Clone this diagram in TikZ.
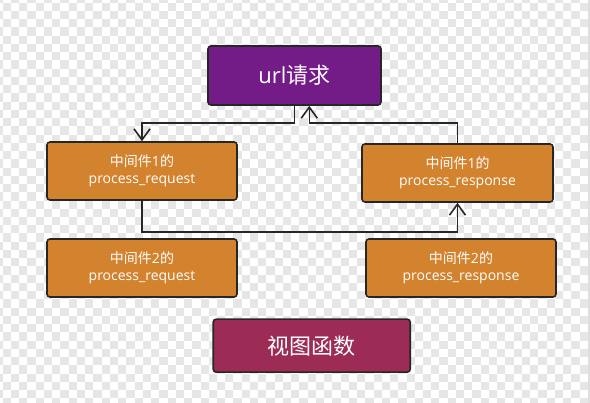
\documentclass[tikz,border=0pt]{standalone}
\usepackage{fontspec}
\setmainfont{Open Sans}
\newfontfamily\cjk{Noto Sans CJK SC}
\usetikzlibrary{arrows.meta}
\definecolor{checkgray}{HTML}{E6E6E6}
\definecolor{purplebox}{HTML}{731C87}
\definecolor{orangebox}{HTML}{D3822E}
\definecolor{maroonbox}{HTML}{9C2C56}
\definecolor{edgecol}{HTML}{262626}
\tikzset{
  box/.style={draw=edgecol, line width=1.6pt, rounded corners=3pt, text=white, align=center, inner sep=0pt},
  bigbox/.style={box, font=\fontsize{22}{26}\selectfont},
  smallbox/.style={box, fill=orangebox, minimum width=190pt, minimum height=58pt, font=\fontsize{14}{17}\selectfont},
  conn/.style={draw=edgecol, line width=1.6pt},
  arr/.style={conn, -{Straight Barb[length=11pt,width=16pt,line width=1.6pt]}}
}
\begin{document}
\begin{tikzpicture}[x=1pt,y=-1pt]
\useasboundingbox (0,0) rectangle (590,403);
\fill[white] (0,0) rectangle (590,403);
\begin{scope}
\clip (0,0) rectangle (590,403);
\foreach \i in {-1,...,71}{
  \foreach \j in {-1,...,48}{
    \pgfmathtruncatemacro\s{mod(\i+\j+100,2)}
    \ifnum\s=0
      \fill[checkgray] ({2.75+8.24*\i},{2.75+8.24*\j}) rectangle +(8.24,8.24);
    \fi
  }
}
\end{scope}
\fill[gray!25] (587.8,0) rectangle (590,403);

\node[bigbox, fill=purplebox, minimum width=173pt, minimum height=59pt] (url) at (294.5,75.5) {url{\cjk 请求}};
\node[smallbox] (L1) at (142,171) {{\cjk 中间件}1{\cjk 的}\\process\_request};
\node[smallbox] (L2) at (142,268) {{\cjk 中间件}2{\cjk 的}\\process\_request};
\node[smallbox, minimum width=191pt] (R1) at (457.5,173) {{\cjk 中间件}1{\cjk 的}\\process\_response};
\node[smallbox] (R2) at (461,268) {{\cjk 中间件}2{\cjk 的}\\process\_response};
\node[bigbox, fill=maroonbox, minimum width=197pt, minimum height=53pt] (view) at (311.7,345.7) {{\cjk 视图函数}};

\coordinate (yA) at (0,123.3);
\coordinate (yB) at (0,232.3);
\coordinate (urlin) at ([xshift=14.8pt]url.south);

\draw[arr] (url.south) -- (url.south |- yA) -| (L1.north);
\draw[arr] (R1.north) -- (R1.north |- yA) -| (urlin);
\draw[arr] (L1.south) -- (L1.south |- yB) -| (R1.south);
\end{tikzpicture}
\end{document}
